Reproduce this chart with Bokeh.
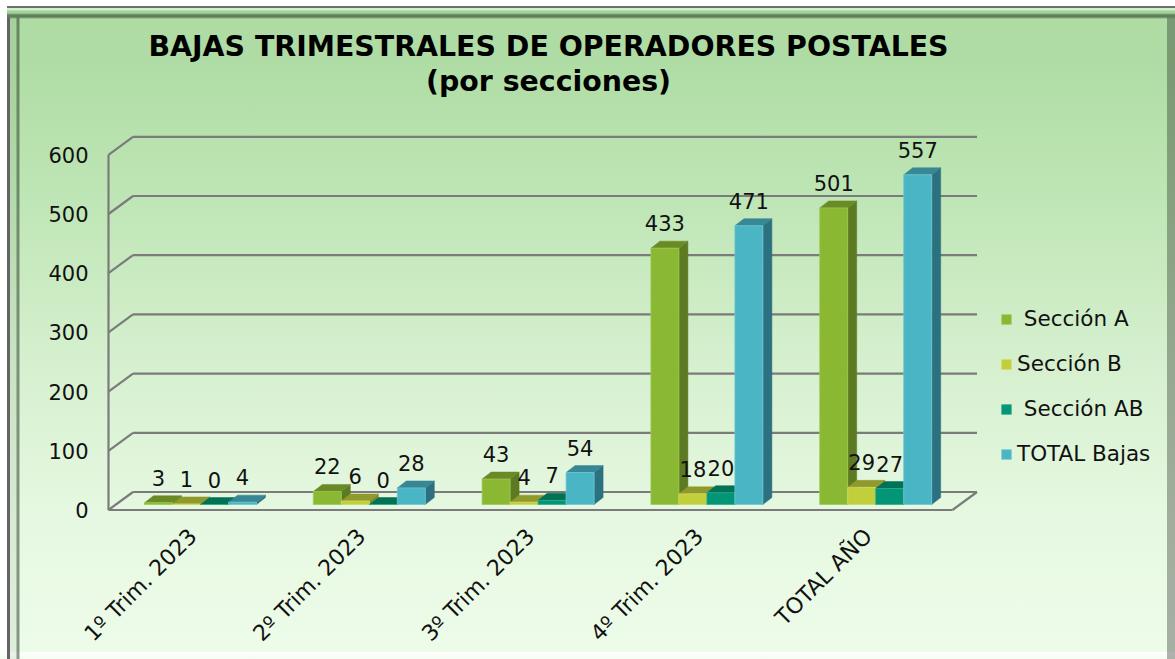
import math
from bokeh.plotting import figure
from bokeh.embed import file_html
from bokeh.resources import INLINE
from bokeh.models import (Range1d, LinearAxis, FixedTicker, Label, Legend, LegendItem)
from bokeh.core.properties import value

categories = ["1º Trim. 2023", "2º Trim. 2023", "3º Trim. 2023", "4º Trim. 2023", "TOTAL AÑO"]
seccion_a = [3, 22, 43, 433, 501]
seccion_b = [1, 6, 4, 18, 29]
seccion_ab = [0, 0, 7, 20, 27]
total_bajas = [4, 28, 54, 471, 557]
series_names = [" Sección A", "Sección B", " Sección AB", "TOTAL Bajas"]
y_ticks = [0, 100, 200, 300, 400, 500, 600]
title_lines = ["BAJAS TRIMESTRALES DE OPERADORES POSTALES", "(por secciones)"]

FONT = "DejaVu Sans"
W, H = 1175, 659
PX_X = 168.8          # pixels per category
PX_Y = 0.592          # pixels per unit

fl, fr, ft, fb = 105, 1170, 15, 513   # plot frame in canvas px
AXIS_X = 108
BAR0 = 504            # canvas px of bar base
x_start = (fl - AXIS_X) / PX_X
x_end = (fr - AXIS_X) / PX_X
y_start = (BAR0 - fb) / PX_Y
y_end = (BAR0 - ft) / PX_Y

FRONT_SHIFT = 5.5 / PX_Y     # front plane zero lies below the bars' base
BACK_SHIFT = 12.5 / PX_Y     # back wall zero lies above the bars' base
WALL_DX = 24.5 / PX_X
BAR_W = 28.0 / PX_X
GROUP_L = 36.0 / PX_X
DEPTH_X = 9.0 / PX_X
DEPTH_Y = 7.0 / PX_Y

bevel = (
    "linear-gradient(to bottom, #6f6f6f 0 2px, #cdf0c6 2px 4px, #a3d29a 5px 7px, #5f7f5a 9px 11px, rgba(95,127,90,0) 13px) 7px 6px/calc(100% - 7px) 13px no-repeat,"
    "linear-gradient(to right, rgba(100,100,100,1) 0 2.5px, rgba(90,110,90,.10) 3.5px 9px, rgba(30,50,30,.5) 10px 12px, rgba(30,50,30,0) 13px) 7px 6px/13px calc(100% - 6px) no-repeat,"
    "linear-gradient(to bottom, rgba(0,0,0,.3), rgba(0,0,0,.3)) right 6px/8px calc(100% - 6px) no-repeat,"
    "linear-gradient(to bottom, #ffffff, #f4fdf1) left bottom/100% 7px no-repeat,"
    "linear-gradient(to bottom, #aedca3 0, #afdca4 8%, #bfe6b6 30%, #d6f0cf 55%, #e6f8e1 78%, #eefcea 100%) 7px 6px/calc(100% - 7px) calc(100% - 6px) no-repeat"
)

p = figure(width=W, height=H, output_backend="svg", toolbar_location=None,
           x_range=Range1d(x_start, x_end), y_range=Range1d(y_start, y_end),
           y_axis_type=None, x_axis_type="linear",
           min_border_left=fl, min_border_right=W - fr,
           min_border_top=ft, min_border_bottom=H - fb,
           background_fill_color=None, border_fill_color=None, outline_line_color=None)
p.styles = {"background": bevel}
p.grid.visible = False

# value axis on the front plane
p.extra_y_ranges = {"front": Range1d(y_start + FRONT_SHIFT, y_end + FRONT_SHIFT)}
yax = LinearAxis(y_range_name="front", ticker=FixedTicker(ticks=y_ticks))
yax.axis_line_color = None
yax.major_tick_line_color = None
yax.major_tick_out = 0
yax.major_tick_in = 0
yax.minor_tick_line_color = None
yax.major_label_standoff = 17
yax.major_label_text_font = FONT
yax.major_label_text_font_size = "21px"
yax.major_label_text_color = "#111111"
p.add_layout(yax, "left")

# category axis
xax = p.xaxis[0]
xax.ticker = FixedTicker(ticks=[i + 0.5 for i in range(len(categories))])
xax.major_label_overrides = {i + 0.5: c for i, c in enumerate(categories)}
xax.axis_line_color = None
xax.major_tick_line_color = None
xax.major_tick_out = 0
xax.major_tick_in = 0
xax.minor_tick_line_color = None
xax.major_label_orientation = math.pi / 4
xax.major_label_standoff = 19
xax.major_label_text_font = FONT
xax.major_label_text_font_size = "22px"
xax.major_label_text_color = "#111111"

# walls and floor
GRID = "#7b7b7b"
n = len(categories)
xs0, ys0, xs1, ys1 = [], [], [], []
for t in y_ticks:
    front = t - FRONT_SHIFT
    back = t + BACK_SHIFT
    xs0 += [0, WALL_DX]
    ys0 += [front, back]
    xs1 += [WALL_DX, n + WALL_DX]
    ys1 += [back, back]
xs0 += [0, 0, n]
ys0 += [y_ticks[0] - FRONT_SHIFT, y_ticks[0] - FRONT_SHIFT, y_ticks[0] - FRONT_SHIFT]
xs1 += [n, 0, n + WALL_DX]
ys1 += [y_ticks[0] - FRONT_SHIFT, y_ticks[-1] - FRONT_SHIFT, y_ticks[0] + BACK_SHIFT]
p.segment(xs0, ys0, xs1, ys1, line_color=GRID, line_width=2.2)

# bars
series = [seccion_a, seccion_b, seccion_ab, total_bajas]
front_col = ["#8ab833", "#c0cf3a", "#029676", "#4ab5c4"]
side_col = ["#5c7a21", "#808a27", "#01644f", "#2c7180"]
top_col = ["#6a8a26", "#90992b", "#017256", "#388795"]
edge_col = ["#a0c955", "#cfdb60", "#30ab90", "#70c6d2"]

legend_items = []
lab_x, lab_y, lab_t = [], [], []
for j, vals in enumerate(series):
    sx, sy, tx, ty = [], [], [], []
    l, r, v = [], [], []
    for i, val in enumerate(vals):
        x0 = i + GROUP_L + j * BAR_W
        x1 = x0 + BAR_W
        sx.append([x1, x1 + DEPTH_X, x1 + DEPTH_X, x1])
        sy.append([0, DEPTH_Y, val + DEPTH_Y, val])
        tx.append([x0, x1, x1 + DEPTH_X, x0 + DEPTH_X])
        ty.append([val, val, val + DEPTH_Y, val + DEPTH_Y])
        l.append(x0); r.append(x1); v.append(val)
        lab_x.append((x0 + x1) / 2); lab_y.append(val); lab_t.append(str(val))
    p.patches(sx, sy, fill_color=side_col[j], line_color=side_col[j], line_width=0.5)
    p.patches(tx, ty, fill_color=top_col[j], line_color=top_col[j], line_width=0.5)
    q = p.quad(left=l, right=r, bottom=[0] * n, top=v, fill_color=front_col[j],
               line_color=edge_col[j], line_width=0.8)
    legend_items.append(LegendItem(label=series_names[j], renderers=[q]))

p.text(lab_x, lab_y, lab_t, text_align="center", text_baseline="alphabetic", y_offset=-25,
       text_font=value(FONT), text_font_size="21px", text_color="#111111")

legend = Legend(items=legend_items, location=(1000 - fl, 47), orientation="vertical",
                glyph_width=12, glyph_height=12, label_standoff=5, spacing=20, padding=0, margin=0,
                border_line_color=None, background_fill_color=None,
                label_text_font=FONT, label_text_font_size="21.5px", label_text_color="#111111")
legend.label_height = 20
p.add_layout(legend, "center")

# title, two lines placed on the plot's scales
title_x = (548 - AXIS_X) / PX_X
for line, py in zip(title_lines, [46, 81]):
    p.add_layout(Label(x=title_x, y=(BAR0 - py) / PX_Y, text=line, text_align="center",
                       text_baseline="alphabetic", text_font=FONT, text_font_style="bold",
                       text_font_size="28.4px", text_color="#000000"))

open("out.html", "w").write(file_html(p, INLINE))
